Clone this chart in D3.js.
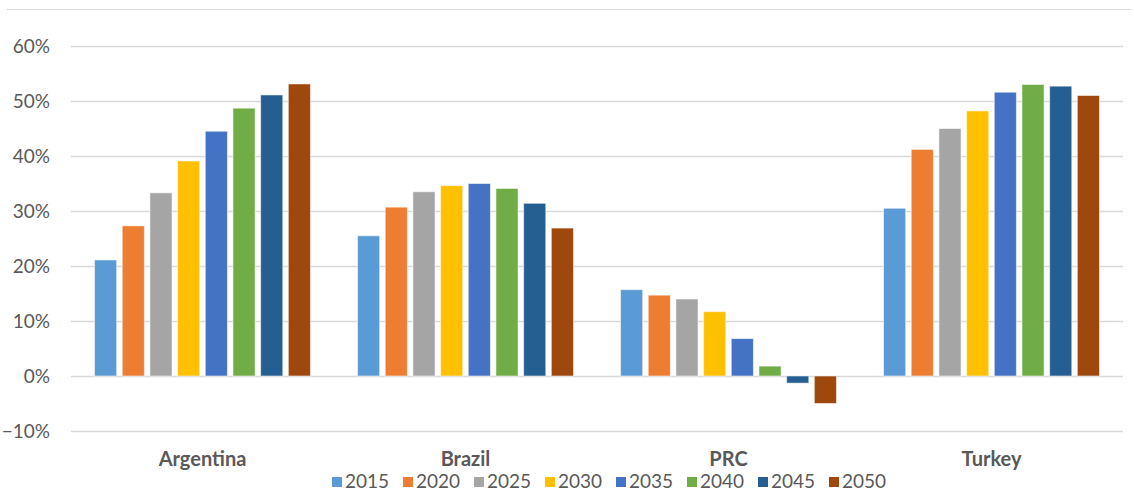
<!DOCTYPE html>
<html>
<head>
  <meta charset="utf-8">
  <title>Share by country and year</title>
  <script src="https://cdn.jsdelivr.net/npm/d3@7"></script>
  <style>
    body { margin: 0; background: #fff; }
    text { font-family: Lato, "Open Sans", sans-serif; fill: #595959; }
  </style>
</head>
<body>
  <script>
    // Categories, series and values
    var countries = ["Argentina", "Brazil", "PRC", "Turkey"];
    var years = ["2015", "2020", "2025", "2030", "2035", "2040", "2045", "2050"];
    var yearColors = ["#5b9bd5", "#ed7d31", "#a5a5a5", "#ffc000", "#4472c4", "#70ad47", "#255e91", "#9e480e"];

    var argentina = [0.211, 0.273, 0.333, 0.391, 0.445, 0.487, 0.511, 0.531];
    var brazil    = [0.255, 0.307, 0.335, 0.346, 0.350, 0.341, 0.314, 0.269];
    var prc       = [0.157, 0.147, 0.140, 0.117, 0.068, 0.018, -0.013, -0.050];
    var turkey    = [0.305, 0.412, 0.450, 0.482, 0.516, 0.530, 0.527, 0.510];
    var yTicks = [-0.1, 0, 0.1, 0.2, 0.3, 0.4, 0.5, 0.6];

    var seriesByCountry = [argentina, brazil, prc, turkey];

    var W = 1134, H = 496;
    var svg = d3.select("body").append("svg")
      .attr("width", W).attr("height", H);

    // thin border at the very top of the chart area
    svg.append("line")
      .attr("x1", 7).attr("x2", 1131).attr("y1", 9.5).attr("y2", 9.5)
      .attr("stroke", "#d9d9d9").attr("stroke-width", 1);

    var x0 = d3.scaleBand().domain(countries).range([71, 1123]);
    var x1 = d3.scaleBand().domain(years).range([0, x0.bandwidth()])
      .paddingInner(0.2).paddingOuter(0.85);
    var y = d3.scaleLinear().domain([-0.1, 0.6]).range([431, 46]);

    // gridlines
    svg.append("g").selectAll("line").data(yTicks).enter().append("line")
      .attr("x1", 71).attr("x2", 1123)
      .attr("y1", function (d) { return Math.round(y(d)) + 0.5; })
      .attr("y2", function (d) { return Math.round(y(d)) + 0.5; })
      .attr("stroke", "#d9d9d9").attr("stroke-width", 1.3);

    // y tick labels
    svg.append("g").selectAll("text").data(yTicks).enter().append("text")
      .attr("x", 50).attr("y", function (d) { return y(d); })
      .attr("dy", "0.35em")
      .attr("text-anchor", "end")
      .style("font-size", "19px")
      .text(d3.format(".0%"));

    // bars
    var groups = svg.append("g").selectAll("g").data(countries).enter().append("g")
      .attr("transform", function (c) { return "translate(" + x0(c) + ",0)"; });

    groups.selectAll("rect")
      .data(function (c, i) {
        return seriesByCountry[i].map(function (v, j) { return { year: years[j], value: v, color: yearColors[j] }; });
      })
      .enter().append("rect")
      .attr("x", function (d) { return x1(d.year); })
      .attr("width", x1.bandwidth())
      .attr("y", function (d) { return y(Math.max(0, d.value)); })
      .attr("height", function (d) { return Math.abs(y(d.value) - y(0)); })
      .attr("fill", function (d) { return d.color; })
      .attr("stroke", "#ffffff").attr("stroke-opacity", 0.55).attr("stroke-width", 1);

    // category labels
    svg.append("g").selectAll("text").data(countries).enter().append("text")
      .attr("x", function (c) { return x0(c) + x0.bandwidth() / 2; })
      .attr("y", 466)
      .attr("text-anchor", "middle")
      .style("font-size", "20px").style("font-weight", "bold")
      .text(function (c) { return c; });

    // legend
    var legend = svg.append("g").selectAll("g").data(years).enter().append("g")
      .attr("transform", function (d, i) { return "translate(" + (332 + i * 71) + ",0)"; });
    legend.append("rect")
      .attr("x", 0).attr("y", 477).attr("width", 10).attr("height", 10)
      .attr("fill", function (d, i) { return yearColors[i]; });
    legend.append("text")
      .attr("x", 13).attr("y", 488)
      .style("font-size", "19px")
      .text(function (d) { return d; });
  </script>
</body>
</html>
